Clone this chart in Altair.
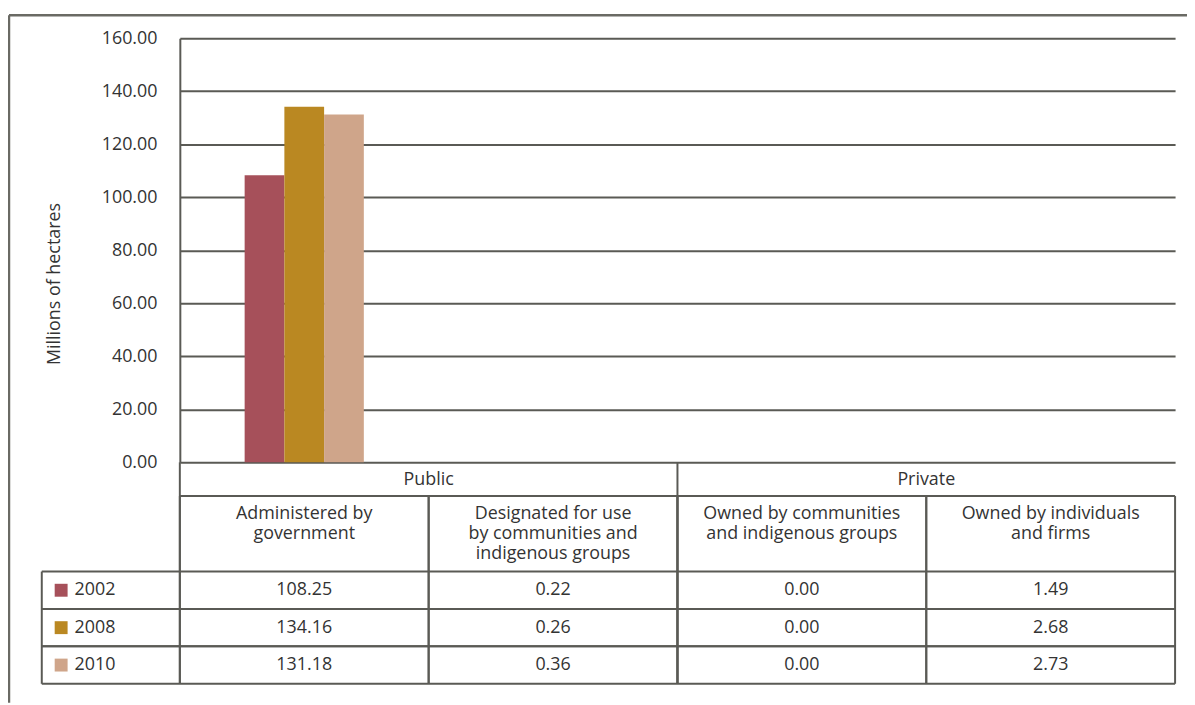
import altair as alt
import pandas as pd

# ---- data ----
categories = [
    "Administered by government",
    "Designated for use by communities and indigenous groups",
    "Owned by communities and indigenous groups",
    "Owned by individuals and firms",
]
category_lines = [
    ["Administered by", "government"],
    ["Designated for use", "by communities and", "indigenous groups"],
    ["Owned by communities", "and indigenous groups"],
    ["Owned by individuals", "and firms"],
]
category_group = ["Public", "Public", "Private", "Private"]
groups = ["Public", "Private"]
years = ["2002", "2008", "2010"]
values_2002 = [108.25, 0.22, 0.00, 1.49]
values_2008 = [134.16, 0.26, 0.00, 2.68]
values_2010 = [131.18, 0.36, 0.00, 2.73]
# the reference draws bars only for this category
bar_categories = ["Administered by government"]
year_colors = ["#a6505a", "#ba8822", "#cfa58a"]
y_ticks = [0, 20, 40, 60, 80, 100, 120, 140, 160]

series = {"2002": values_2002, "2008": values_2008, "2010": values_2010}
rows = []
for yr in years:
    for c, g, v in zip(categories, category_group, series[yr]):
        rows.append({"cat": c, "group": g, "year": yr, "value": v,
                     "drawn": c in bar_categories})
bars_df = pd.DataFrame(rows)
cats_df = pd.DataFrame({"cat": categories, "lines": category_lines, "group": category_group})
groups_df = pd.DataFrame({"group": groups})
years_df = pd.DataFrame({"year": years})
one_df = pd.DataFrame({"k": [0]})

# ---- styling ----
W, H = 1002, 650
PLOT_H = 427          # height of the bar area
HDR1 = 461            # bottom of group header row
HDR2 = 537            # bottom of category header row
LINE = "#5a5a55"
FRAME = "#6a6a64"
TXT = "#333333"
FONT = "Open Sans"
FS = 18
BAND = W / len(categories)
GROUP_W = 120

x_cat = alt.Scale(domain=categories, paddingInner=0, paddingOuter=0)
x_grp = alt.Scale(domain=groups, paddingInner=0, paddingOuter=0)
x_off = alt.Scale(domain=years, paddingInner=0, paddingOuter=0,
                  range=[(BAND - GROUP_W) / 2, (BAND + GROUP_W) / 2])
y_val = alt.Scale(domain=[0, 160], range=[PLOT_H, 0], nice=False)
y_year = alt.Scale(domain=years, range=[HDR2, H], paddingInner=0, paddingOuter=0)
color_scale = alt.Scale(domain=years, range=year_colors)

bars = alt.Chart(bars_df).transform_filter(
    alt.datum.drawn
).mark_bar().encode(
    x=alt.X("cat:N", scale=x_cat, axis=None, sort=categories),
    xOffset=alt.XOffset("year:N", scale=x_off, sort=years),
    y=alt.Y(
        "value:Q",
        scale=y_val,
        axis=alt.Axis(
            values=y_ticks, format=".2f", title="Millions of hectares",
            grid=True, gridColor=LINE, gridWidth=2,
            domain=True, domainColor=LINE, domainWidth=2,
            ticks=False, tickSize=0, labelPadding=23,
            labelFont=FONT, labelFontSize=FS, labelColor=TXT,
            titleFont=FONT, titleFontSize=FS, titleFontWeight="normal", titleColor=TXT,
            titleAngle=-90, titleX=-126, titleY=247, titleAlign="center", titleBaseline="middle",
        ),
    ),
    color=alt.Color("year:N", scale=color_scale, legend=None),
)

# group header text
grp_text = alt.Chart(groups_df).mark_text(font=FONT, fontSize=FS, color=TXT, baseline="middle").encode(
    x=alt.X("group:N", scale=x_grp, axis=None, sort=groups),
    y=alt.value(444.5),
    text="group:N",
)

# category header text
cat_text = alt.Chart(cats_df).mark_text(
    font=FONT, fontSize=FS, color=TXT, baseline="line-top", lineHeight=20
).encode(
    x=alt.X("cat:N", scale=x_cat, axis=None, sort=categories),
    y=alt.value(469),
    text="lines",
)

# cell values
cell_text = alt.Chart(bars_df).mark_text(font=FONT, fontSize=FS, color=TXT, baseline="middle").encode(
    x=alt.X("cat:N", scale=x_cat, axis=None, sort=categories),
    y=alt.Y("year:N", scale=y_year, axis=None, sort=years),
    text=alt.Text("value:Q", format=".2f"),
)

# legend in first column
leg_sq = alt.Chart(years_df).mark_square(size=169, opacity=1).encode(
    x=alt.value(-119.5),
    y=alt.Y("year:N", scale=y_year, axis=None, sort=years),
    color=alt.Color("year:N", scale=color_scale, legend=None),
)
leg_text = alt.Chart(years_df).mark_text(font=FONT, fontSize=FS, color=TXT, align="left", baseline="middle").encode(
    x=alt.value(-106),
    y=alt.Y("year:N", scale=y_year, axis=None, sort=years),
    text="year:N",
)

# table lines
grp_vrules = alt.Chart(groups_df).mark_rule(color=LINE, strokeWidth=2).encode(
    x=alt.X("group:N", scale=x_grp, axis=None, sort=groups, bandPosition=0),
    y=alt.value(PLOT_H), y2=alt.value(H),
)
cat_vrules = alt.Chart(cats_df).mark_rule(color=LINE, strokeWidth=2).encode(
    x=alt.X("cat:N", scale=x_cat, axis=None, sort=categories, bandPosition=0),
    y=alt.value(HDR1), y2=alt.value(H),
)
cat_vrules_end = alt.Chart(cats_df).mark_rule(color=LINE, strokeWidth=2).encode(
    x=alt.X("cat:N", scale=x_cat, axis=None, sort=categories, bandPosition=1),
    y=alt.value(HDR1), y2=alt.value(H),
)
leg_vrule = alt.Chart(one_df).mark_rule(color=LINE, strokeWidth=2).encode(
    x=alt.value(-139), y=alt.value(HDR2), y2=alt.value(H),
)
hdr_hrule = alt.Chart(one_df).mark_rule(color=LINE, strokeWidth=2).encode(
    x=alt.value(0), x2=alt.value(W), y=alt.value(HDR1),
)
year_hrules = alt.Chart(years_df).mark_rule(color=LINE, strokeWidth=2).encode(
    x=alt.value(-139), x2=alt.value(W),
    y=alt.Y("year:N", scale=y_year, axis=None, sort=years, bandPosition=0),
)
year_hrules_end = alt.Chart(years_df).mark_rule(color=LINE, strokeWidth=2).encode(
    x=alt.value(-139), x2=alt.value(W),
    y=alt.Y("year:N", scale=y_year, axis=None, sort=years, bandPosition=1),
)

# outer frame (top and left edges visible)
frame_top = alt.Chart(one_df).mark_rule(color=FRAME, strokeWidth=2.5).encode(
    x=alt.value(-172), x2=alt.value(W + 12), y=alt.value(-23),
)
frame_left = alt.Chart(one_df).mark_rule(color=FRAME, strokeWidth=2.5).encode(
    x=alt.value(-172), y=alt.value(-23), y2=alt.value(H + 19),
)

chart = alt.layer(
    frame_top, frame_left,
    bars,
    grp_vrules, cat_vrules, cat_vrules_end, leg_vrule, hdr_hrule, year_hrules, year_hrules_end,
    grp_text, cat_text, cell_text, leg_sq, leg_text,
).resolve_scale(
    x="independent", y="independent"
).properties(
    width=W, height=H,
    autosize=alt.AutoSizeParams(type="none"),
    padding={"left": 173, "top": 28, "right": 12, "bottom": 19},
).configure_view(stroke=None)

chart.save("out.html", embed_options={"renderer": "svg", "actions": False})
